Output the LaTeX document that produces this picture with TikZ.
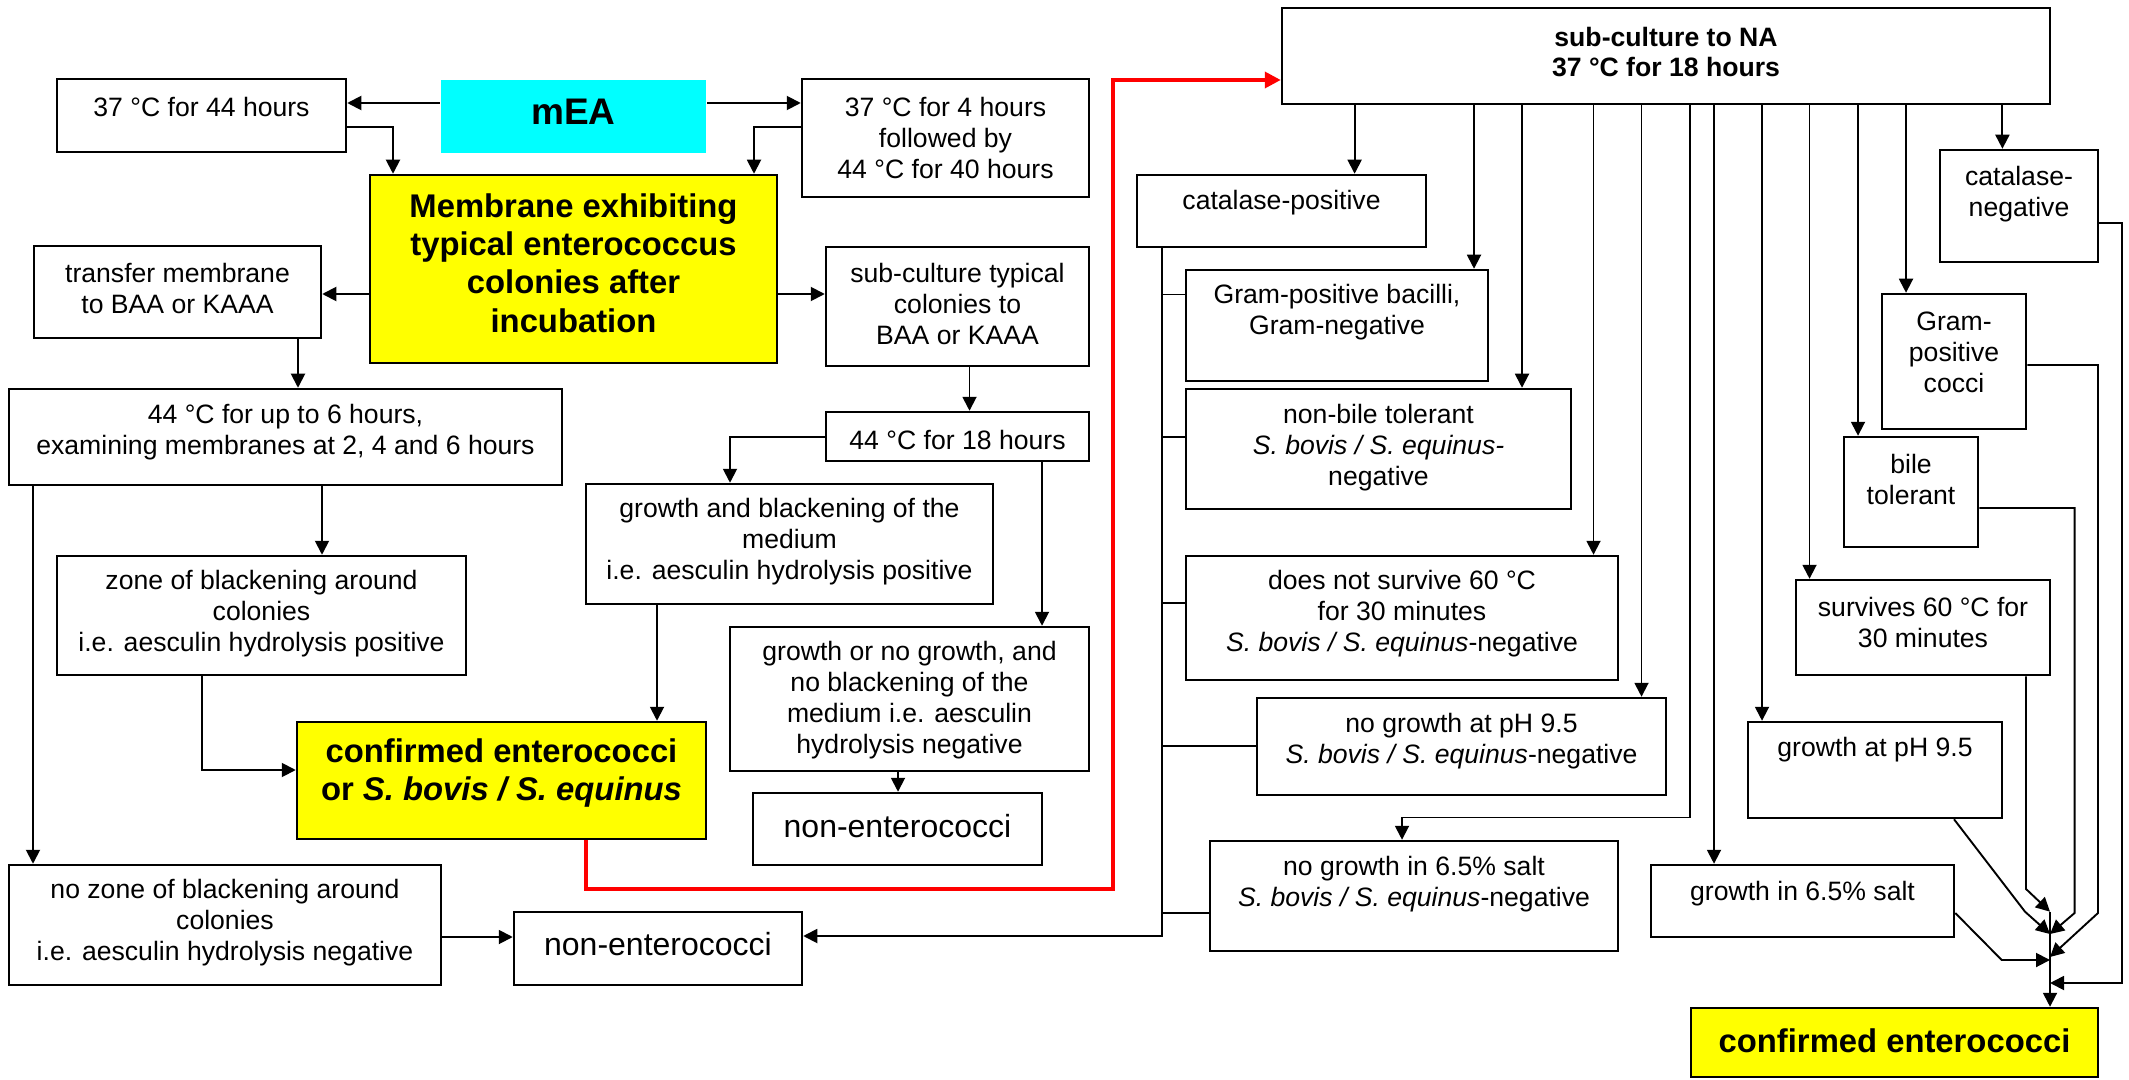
\documentclass[tikz,border=0pt]{standalone}
\usepackage{fontspec}
\setmainfont{Liberation Sans}
\usetikzlibrary{arrows.meta,fit}
\definecolor{boxyellow}{RGB}{255,255,0}
\definecolor{boxcyan}{RGB}{0,255,255}
\newcommand\mkbox[6]{\node[boxst,#6,fit={(#2,#3) (#4,#5)}] (#1) {};}
\begin{document}
\begin{tikzpicture}[x=0.5pt,y=-0.5pt,
  boxst/.style={draw, line width=1.25pt, inner sep=0pt},
  ybox/.style={fill=boxyellow},
  nbox/.style={},
  cbox/.style={fill=boxcyan, draw=none},
  txt/.style={align=center, inner sep=0pt, font=\fontsize{13.3}{15.5}\selectfont},
  btxt/.style={align=center, inner sep=0pt, font=\fontsize{13.3}{15}\selectfont\bfseries},
  bigb/.style={align=center, inner sep=0pt, font=\fontsize{16.4}{19.2}\selectfont\bfseries},
  bigr/.style={align=center, inner sep=0pt, font=\fontsize{16}{19}\selectfont},
  con/.style={line width=0.95pt},
  arr/.style={con, -{Triangle[length=7pt,width=7pt]}},
  redarr/.style={line width=1.8pt, red, -{Triangle[length=8pt,width=8pt]}},
]
\useasboundingbox (0,0) rectangle (2129,1080);

% ---------- left part boxes ----------
\mkbox{A}{57}{79}{346}{152}{nbox}
\mkbox{mEA}{441}{80}{706}{153}{cbox}
\mkbox{C}{802}{79}{1089}{197}{nbox}
\mkbox{Mem}{370}{175}{777}{363}{ybox}
\mkbox{D}{34}{246}{321}{338}{nbox}
\mkbox{E}{826}{247}{1089}{366}{nbox}
\mkbox{F}{9}{389}{562}{485}{nbox}
\mkbox{G}{826}{412}{1089}{461}{nbox}
\mkbox{H}{586}{484}{993}{604}{nbox}
\mkbox{J}{57}{556}{466}{675}{nbox}
\mkbox{I}{730}{627}{1089}{771}{nbox}
\mkbox{K}{297}{722}{706}{839}{ybox}
\mkbox{M}{753}{793}{1042}{865}{nbox}
\mkbox{L}{9}{865}{441}{985}{nbox}
\mkbox{N}{514}{912}{802}{985}{nbox}

\node[txt] (At) at (201.5,107) {37 °C for 44 hours};
\node[font=\fontsize{18.5}{22}\selectfont\bfseries, inner sep=0pt] (mEAt) at (573.5,112) {mEA};
\node[txt] (Ct) at (945.5,137.5) {37 °C for 4 hours\\followed by\\44 °C for 40 hours};
\node[bigb] (Memt) at (573.5,263) {Membrane exhibiting\\typical enterococcus\\colonies after\\incubation};
\node[txt] (Dt) at (177.5,288.3) {transfer membrane\\to BAA or KAAA};
\node[txt] (Et) at (957.5,304) {sub-culture typical\\colonies to\\BAA or KAAA};
\node[txt] (Ft) at (285.5,432) {44 °C for up to 6 hours,\\examining membranes at 2, 4 and 6 hours};
\node[txt] (Gt) at (957.5,440) {44 °C for 18 hours};
\node[txt] (Ht) at (789.5,542) {growth and blackening of the\\medium\\i.e. aesculin hydrolysis positive};
\node[txt] (Jt) at (261.5,614) {zone of blackening around\\colonies\\i.e. aesculin hydrolysis positive};
\node[txt] (It) at (909.5,700.5) {growth or no growth, and\\no blackening of the\\medium i.e. aesculin\\hydrolysis negative};
\node[bigb] (Kt) at (501.5,773) {confirmed enterococci\\or \textit{S. bovis / S. equinus}};
\node[bigr] (Mt) at (897.5,826) {non-enterococci};
\node[txt] (Lt) at (225,923) {no zone of blackening around\\colonies\\i.e. aesculin hydrolysis negative};
\node[bigr] (Nt) at (658,944) {non-enterococci};

% ---------- right part boxes ----------
\mkbox{NA}{1282}{8}{2050}{104}{nbox}
\mkbox{catpos}{1137}{175}{1426}{247}{nbox}
\mkbox{gpb}{1186}{270}{1488}{381}{nbox}
\mkbox{nonbile}{1186}{389}{1571}{509}{nbox}
\mkbox{dns}{1186}{556}{1618}{680}{nbox}
\mkbox{ngph}{1257}{698}{1666}{795}{nbox}
\mkbox{ngsalt}{1210}{841}{1618}{951}{nbox}
\mkbox{catneg}{1940}{150}{2098}{262}{nbox}
\mkbox{gpc}{1882}{294}{2026}{429}{nbox}
\mkbox{bile}{1844}{437}{1978}{547}{nbox}
\mkbox{surv}{1796}{580}{2050}{675}{nbox}
\mkbox{gph}{1748}{722}{2002}{818}{nbox}
\mkbox{gsalt}{1651}{865}{1954}{937}{nbox}
\mkbox{conf}{1691}{1008}{2098}{1077}{ybox}

\node[btxt] (NAt) at (1666,52.2) {sub-culture to NA\\37 °C for 18 hours};
\node[txt] (catpost) at (1281.5,203) {catalase-positive};
\node[txt] (gpbt) at (1337,312) {Gram-positive bacilli,\\Gram-negative};
\node[txt] (nonbilet) at (1378.5,447.5) {non-bile tolerant\\\textit{S. bovis / S. equinus-}\\negative};
\node[txt] (dnst) at (1402,614) {does not survive 60 °C\\for 30 minutes\\\textit{S. bovis / S. equinus}-negative};
\node[txt] (ngpht) at (1461.5,741.6) {no growth at pH 9.5\\\textit{S. bovis / S. equinus}-negative};
\node[txt] (ngsaltt) at (1414,883.7) {no growth in 6.5\% salt\\\textit{S. bovis / S. equinus}-negative};
\node[txt] (catnegt) at (2019,193.7) {catalase-\\negative};
\node[txt] (gpct) at (1954,352) {Gram-\\positive\\cocci};
\node[txt] (bilet) at (1911,479) {bile\\tolerant};
\node[txt] (survt) at (1923,622) {survives 60 °C for\\30 minutes};
\node[txt] (gpht) at (1875,749.6) {growth at pH 9.5};
\node[txt] (gsaltt) at (1802.5,893.2) {growth in 6.5\% salt};
\node[bigb] (conft) at (1894.5,1041) {confirmed enterococci};

% ---------- left connectors ----------
\draw[arr] (mEA.west |- 0,103) -- (A.east |- 0,103);
\draw[arr] (mEA.east |- 0,103) -- (C.west |- 0,103);
\draw[arr] (A.east |- 0,127) -| (Mem.north -| 393,0);
\draw[arr] (C.west |- 0,127) -| (Mem.north -| 754,0);
\draw[arr] (Mem.west |- 0,294) -- (D.east |- 0,294);
\draw[arr] (Mem.east |- 0,294) -- (E.west |- 0,294);
\draw[arr] (D.south -| 298,0) -- (F.north -| 298,0);
\draw[arr] (E.south -| 969.5,0) -- (G.north -| 969.5,0);
\draw[arr] (G.west |- 0,437) -| (H.north -| 730,0);
\draw[arr] (G.south -| 1042,0) -- (I.north -| 1042,0);
\draw[arr] (F.south -| 322,0) -- (J.north -| 322,0);
\draw[arr] (F.south -| 33,0) -- (L.north -| 33,0);
\draw[arr] (H.south -| 657,0) -- (K.north -| 657,0);
\draw[arr] (J.south -| 202,0) |- (K.west |- 0,770);
\draw[arr] (I.south -| 898,0) -- (M.north -| 898,0);
\draw[arr] (L.east |- 0,937) -- (N.west |- 0,937);
\draw[redarr] (K.south -| 586,0) |- (1113,889) |- (NA.west |- 0,80);

% ---------- catalase-positive trunk ----------
\coordinate (trunk) at (1162,247);
\draw[arr] (catpos.south -| trunk) |- (N.east |- 0,936);
\draw[con] (trunk |- 0,294.5) -- (gpb.west |- 0,294.5);
\draw[con] (trunk |- 0,437) -- (nonbile.west |- 0,437);
\draw[con] (trunk |- 0,603) -- (dns.west |- 0,603);
\draw[con] (trunk |- 0,746) -- (ngph.west |- 0,746);
\draw[con] (trunk |- 0,913) -- (ngsalt.west |- 0,913);

% ---------- NA branches ----------
\draw[arr] (NA.south -| 1354.6,0) -- (catpos.north -| 1354.6,0);
\draw[arr] (NA.south -| 1474,0) -- (gpb.north -| 1474,0);
\draw[arr] (NA.south -| 1522,0) -- (nonbile.north -| 1522,0);
\draw[arr] (NA.south -| 1593.5,0) -- (dns.north -| 1593.5,0);
\draw[arr] (NA.south -| 1641.5,0) -- (ngph.north -| 1641.5,0);
\draw[arr] (NA.south -| 1690,0) |- (1402,817.5) -- (ngsalt.north -| 1402,0);
\draw[arr] (NA.south -| 1714,0) -- (gsalt.north -| 1714,0);
\draw[arr] (NA.south -| 1762,0) -- (gph.north -| 1762,0);
\draw[arr] (NA.south -| 1809.5,0) -- (surv.north -| 1809.5,0);
\draw[arr] (NA.south -| 1858,0) -- (bile.north -| 1858,0);
\draw[arr] (NA.south -| 1906,0) -- (gpc.north -| 1906,0);
\draw[arr] (NA.south -| 2002.4,0) -- (catneg.north -| 2002.4,0);

% ---------- convergence to confirmed enterococci ----------
\coordinate (cj1) at (2050,911.7);
\coordinate (cj2) at (2050,934);
\coordinate (cj3) at (2050,957);
\coordinate (cj4) at (2050,960);
\coordinate (cj5) at (2050,983);
\draw[arr] (cj1) -- (conf.north -| cj1);
\draw[arr] (surv.south -| 2026,0) -- (2026,889) -- (cj1);
\draw[arr] (gph.south -| 1954,0) -- (2025,911.7) -- (cj2);
\draw[arr] (bile.east |- 0,508) -| (2074.6,913) -- (cj2);
\draw[arr] (gpc.east |- 0,365) -| (2098,913) -- (cj3);
\draw[arr] (gsalt.east |- 0,913) -- (2001.7,960) -- (cj4);
\draw[arr] (catneg.east |- 0,223) -| (2122,983) -- (cj5);
\end{tikzpicture}
\end{document}
